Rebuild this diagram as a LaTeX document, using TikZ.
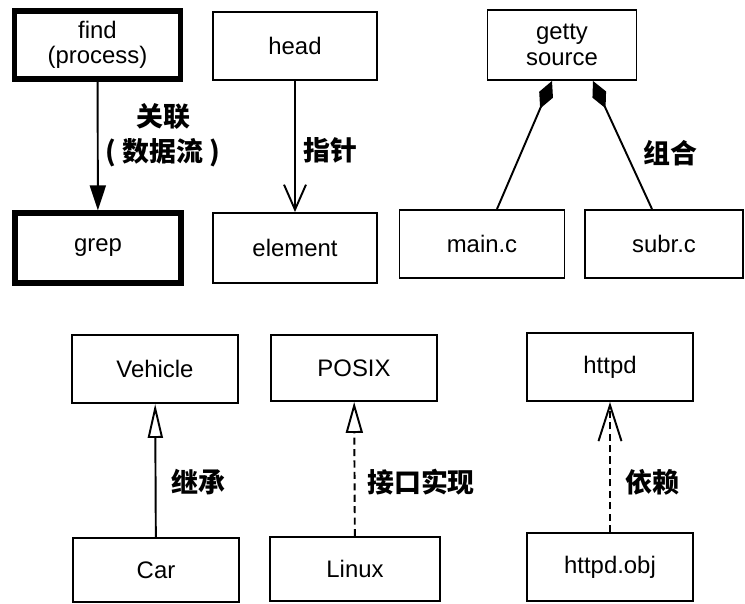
\documentclass[tikz,border=0pt]{standalone}
\usepackage{fontspec}
\setmainfont{Liberation Sans}
\newfontfamily\cjk{Noto Sans CJK SC}
\usetikzlibrary{arrows.meta}

\tikzset{
	box/.style = {draw, line width = 1.1pt, minimum width = 3.32cm, minimum height = 1.36cm, align = center, font = \fontsize{13.6}{14.5}\selectfont},
	boldbox/.style = {box, line width = 3pt},
	tag/.style = {font = \cjk\bfseries\fontsize{15.3}{19.8}\selectfont, align = center, inner sep = 0pt},
	dashedline/.style = {dash pattern = on 4pt off 2.5pt}
}

\begin{document}
\begin{tikzpicture}[x = 0.02cm, y = -0.02cm, line width = 1.1pt]
	\useasboundingbox (0,0) rectangle (745,604);
	% top row
	\node[boldbox] (find) at (97.5,45) {find\\(process)};
	\node[boldbox, minimum height = 1.4cm] (grep) at (98,248) {grep};
	\node[box, minimum width = 3.28cm] (head) at (295,46) {head};
	\node[box, minimum width = 3.28cm, minimum height = 1.4cm] (element) at (295,248) {element};
	\node[box, minimum width = 2.98cm, minimum height = 1.4cm] (getty) at (562,45) {getty\\source};
	\node[box, minimum width = 3.3cm] (main) at (482,244) {main.c};
	\node[box, minimum width = 3.16cm] (subr) at (664,244) {subr.c};
	% bottom row
	\node[box] (vehicle) at (155,369) {Vehicle};
	\node[box, minimum height = 1.28cm] (car) at (156,570) {Car};
	\node[box, minimum height = 1.32cm] (posix) at (354,368) {POSIX};
	\node[box, minimum width = 3.4cm, minimum height = 1.28cm] (linux) at (355,569) {Linux};
	\node[box] (httpd) at (610,367) {httpd};
	\node[box] (obj) at (610,567) {httpd.obj};

	\draw[-{Triangle[length = 0.5cm, width = 0.32cm]}] (find) -- (grep);
	\draw[-{Straight Barb[length = 0.5cm, width = 0.44cm]}] (head) -- (element);
	\draw[{Diamond[length = 0.6cm, width = 0.3cm]}-] ([xshift = -0.2cm]getty.south) -- ([xshift = 0.3cm]main.north);
	\draw[{Diamond[length = 0.6cm, width = 0.3cm]}-] ([xshift = 0.62cm]getty.south) -- ([xshift = -0.24cm]subr.north);
	\draw[-{Triangle[open, length = 0.68cm, width = 0.3cm]}] (car) -- (vehicle);
	\draw[dashedline, -{Triangle[open, length = 0.62cm, width = 0.34cm]}] (linux) -- (posix);
	\draw[dashedline, -{Straight Barb[length = 0.72cm, width = 0.46cm]}] (obj) -- (httpd);

	\node[tag] (flowtag) at (163,135) {关联\\( 数据流 )};
	\node[tag] (pointertag) at (330,150) {指针};
	\node[tag] (composetag) at (670,153) {组合};
	\node[tag] (inherittag) at (198,482) {继承};
	\node[tag] (ifacetag) at (421,482) {接口实现};
	\node[tag] (dependtag) at (652,482) {依赖};
\end{tikzpicture}
\end{document}
